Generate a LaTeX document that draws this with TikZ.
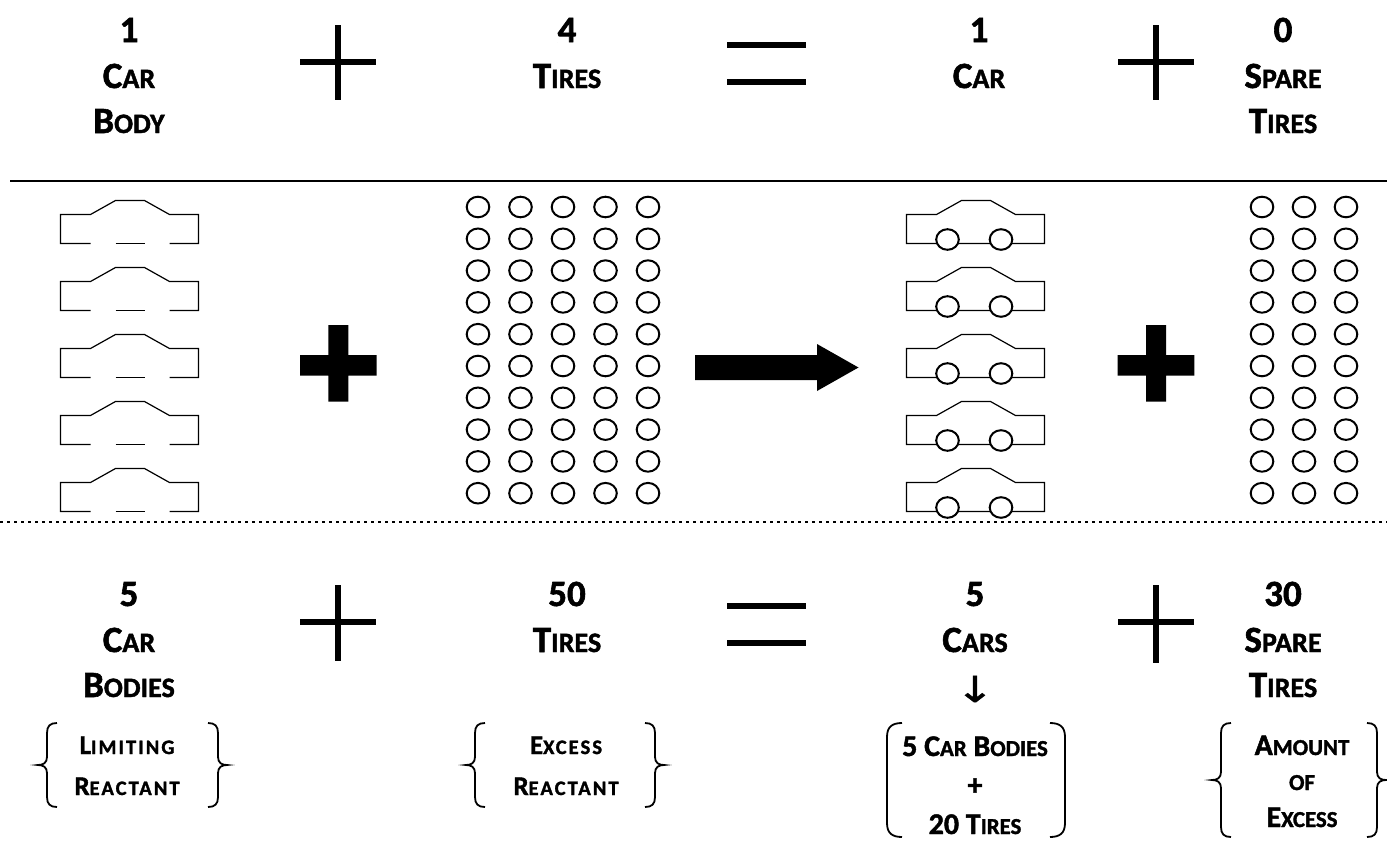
\documentclass[tikz,border=0pt]{standalone}
\usepackage{fontspec}
\setmainfont{Carlito}[BoldFeatures={FakeBold=1.5}]
\newfontfamily\labfont{Carlito}[LetterSpace=10, BoldFeatures={FakeBold=1.5}]
\newfontfamily\arrowfont{DejaVu Sans}[FakeStretch=1.3, FakeBold=1]
\makeatletter
\newcommand\smc[1]{{\fontsize{\fpeval{0.76*\f@size}pt}{1pt}\selectfont #1}}
\makeatother
\tikzset{
  big/.style={inner sep=0pt, anchor=base, font=\bfseries\fontsize{37}{40}\selectfont},
  lab/.style={inner sep=0pt, anchor=base, font=\labfont\bfseries\fontsize{27}{30}\selectfont},
  labr/.style={inner sep=0pt, anchor=base, font=\bfseries\fontsize{30}{32}\selectfont},
  thinop/.style={line width=6.5pt},
  carline/.style={line width=1.2pt},
  tire/.style={line width=2pt},
  brc/.style={line width=1.8pt},
}
\newcommand\carbody[2]{%
  \draw[carline] (#1+30,#2+43) -- (#1,#2+43) -- (#1,#2+14) -- (#1+30,#2+14) -- (#1+55,#2) -- (#1+84,#2) -- (#1+109,#2+14) -- (#1+138,#2+14) -- (#1+138,#2+43) -- (#1+109,#2+43);
  \draw[carline] (#1+55,#2+43) -- (#1+84,#2+43);}
\newcommand\car[2]{%
  \draw[carline] (#1,#2+43) -- (#1,#2+14) -- (#1+30,#2+14) -- (#1+55,#2) -- (#1+84,#2) -- (#1+109,#2+14) -- (#1+138,#2+14) -- (#1+138,#2+43) -- cycle;
  \draw[tire, fill=white] (#1+41,#2+39) ellipse [x radius=11.3, y radius=10.3];
  \draw[tire, fill=white] (#1+94.5,#2+39) ellipse [x radius=11.3, y radius=10.3];}
\newcommand\mkbraceL[3]{%
  \draw[brc] (#1+19,#2) .. controls (#1+12,#2) and (#1+9,#2+3) .. (#1+9,#2+10) -- (#1+9,{(#2+#3)/2-8}) .. controls (#1+9,{(#2+#3)/2-2}) and (#1+5,{(#2+#3)/2}) .. (#1,{(#2+#3)/2}) .. controls (#1+5,{(#2+#3)/2}) and (#1+9,{(#2+#3)/2+2}) .. (#1+9,{(#2+#3)/2+8}) -- (#1+9,#3-10) .. controls (#1+9,#3-3) and (#1+12,#3) .. (#1+19,#3);}
\newcommand\mkbraceR[3]{%
  \draw[brc] (#1-19,#2) .. controls (#1-12,#2) and (#1-9,#2+3) .. (#1-9,#2+10) -- (#1-9,{(#2+#3)/2-8}) .. controls (#1-9,{(#2+#3)/2-2}) and (#1-5,{(#2+#3)/2}) .. (#1,{(#2+#3)/2}) .. controls (#1-5,{(#2+#3)/2}) and (#1-9,{(#2+#3)/2+2}) .. (#1-9,{(#2+#3)/2+8}) -- (#1-9,#3-10) .. controls (#1-9,#3-3) and (#1-12,#3) .. (#1-19,#3);}
\newcommand\mkparenL[3]{%
  \draw[brc] (#1+16,#2) .. controls (#1+6,#2) and (#1+1,#2+4) .. (#1+1,#2+14) -- (#1+1,#3-14) .. controls (#1+1,#3-4) and (#1+6,#3) .. (#1+16,#3);}
\newcommand\mkparenR[3]{%
  \draw[brc] (#1-16,#2) .. controls (#1-6,#2) and (#1-1,#2+4) .. (#1-1,#2+14) -- (#1-1,#3-14) .. controls (#1-1,#3-4) and (#1-6,#3) .. (#1-16,#3);}
\begin{document}
\begin{tikzpicture}[x=1pt,y=-1pt]
\useasboundingbox (0,0) rectangle (1387,854);
% ---------- top equation ----------
\node[big] (t1n) at (129,42) {1};
\node[big] (t1a) at (129,88) {C\smc{AR}};
\node[big] (t1b) at (129,133) {B\smc{ODY}};
\node[big] (t2n) at (567,42) {4};
\node[big] (t2a) at (567,88) {T\smc{IRES}};
\node[big] (t3n) at (979,42) {1};
\node[big] (t3a) at (979,88) {C\smc{AR}};
\node[big] (t4n) at (1283,42) {0};
\node[big] (t4a) at (1283,88) {S\smc{PARE}};
\node[big] (t4b) at (1283,133) {T\smc{IRES}};
\draw[thinop] (300,62) -- (376,62) (338,25) -- (338,100);
\draw[thinop] (1118,62) -- (1194,62) (1156,25) -- (1156,100);
\draw[thinop] (727,45) -- (806,45) (727,82) -- (806,82);
% separators
\draw[line width=2pt] (10,181) -- (1387,181);
\draw[line width=2pt, dash pattern=on 3pt off 4pt] (0,522) -- (1387,522);
% ---------- middle picture ----------
\foreach \y in {200.5,267.5,334.5,401.5,468.5} {\carbody{60.5}{\y}}
\foreach \y in {200.5,267.5,334.5,401.5,468.5} {\car{906.5}{\y}}
\foreach \i in {0,...,4} {\foreach \j in {0,...,9} {
  \draw[tire] (478+42.5*\i,207+31.8*\j) ellipse [x radius=11.3, y radius=10.3];}}
\foreach \i in {0,1,2} {\foreach \j in {0,...,9} {
  \draw[tire] (1262+42*\i,207+31.8*\j) ellipse [x radius=11.3, y radius=10.3];}}
\fill (328.3,325) rectangle (348.3,401.7) (300,355) rectangle (376.7,375.7);
\fill (1146,325) rectangle (1166,401.7) (1117.7,355) rectangle (1194.4,375.7);
\fill (695,355) -- (817,355) -- (817,344) -- (858.5,367.5) -- (817,391) -- (817,380) -- (695,380) -- cycle;
% ---------- bottom equation ----------
\node[big] (b1n) at (129,606) {5};
\node[big] (b1a) at (129,652) {C\smc{AR}};
\node[big] (b1b) at (129,697) {B\smc{ODIES}};
\node[big] (b2n) at (567,606) {50};
\node[big] (b2a) at (567,652) {T\smc{IRES}};
\node[big] (b3n) at (975,606) {5};
\node[big] (b3a) at (975,652) {C\smc{ARS}};
\node[inner sep=0pt, font=\arrowfont\fontsize{36}{38}\selectfont] (b3r) at (975,689) {↓};
\node[big] (b4n) at (1283,606) {30};
\node[big] (b4a) at (1283,652) {S\smc{PARE}};
\node[big] (b4b) at (1283,697) {T\smc{IRES}};
\draw[thinop] (300,622) -- (376,622) (338,585) -- (338,661);
\draw[thinop] (1118,622) -- (1194,622) (1156,585) -- (1156,663);
\draw[thinop] (727,606) -- (806,606) (727,643) -- (806,643);
% brace groups
\node[lab] (g1a) at (127,754) {L\smc{IMITING}};
\node[lab] (g1b) at (127,795) {R\smc{EACTANT}};
\mkbraceL{38}{723}{807}
\mkbraceR{227}{723}{807}
\node[lab] (g2a) at (566,754) {E\smc{XCESS}};
\node[lab] (g2b) at (566,795) {R\smc{EACTANT}};
\mkbraceL{466}{723}{807}
\mkbraceR{664}{723}{807}
\node[labr] (g3a) at (975,756) {5 C\smc{AR} B\smc{ODIES}};
\node[labr] (g3b) at (975,795) {+};
\node[labr] (g3c) at (975,834) {20 T\smc{IRES}};
\mkparenL{886}{723}{837}
\mkparenR{1066}{723}{837}
\node[labr] (g4a) at (1302,755) {A\smc{MOUNT}};
\node[labr] (g4b) at (1302,790) {\smc{OF}};
\node[labr] (g4c) at (1302,827) {E\smc{XCESS}};
\mkbraceL{1212}{723}{837}
\mkbraceR{1386}{723}{837}
\end{tikzpicture}
\end{document}
